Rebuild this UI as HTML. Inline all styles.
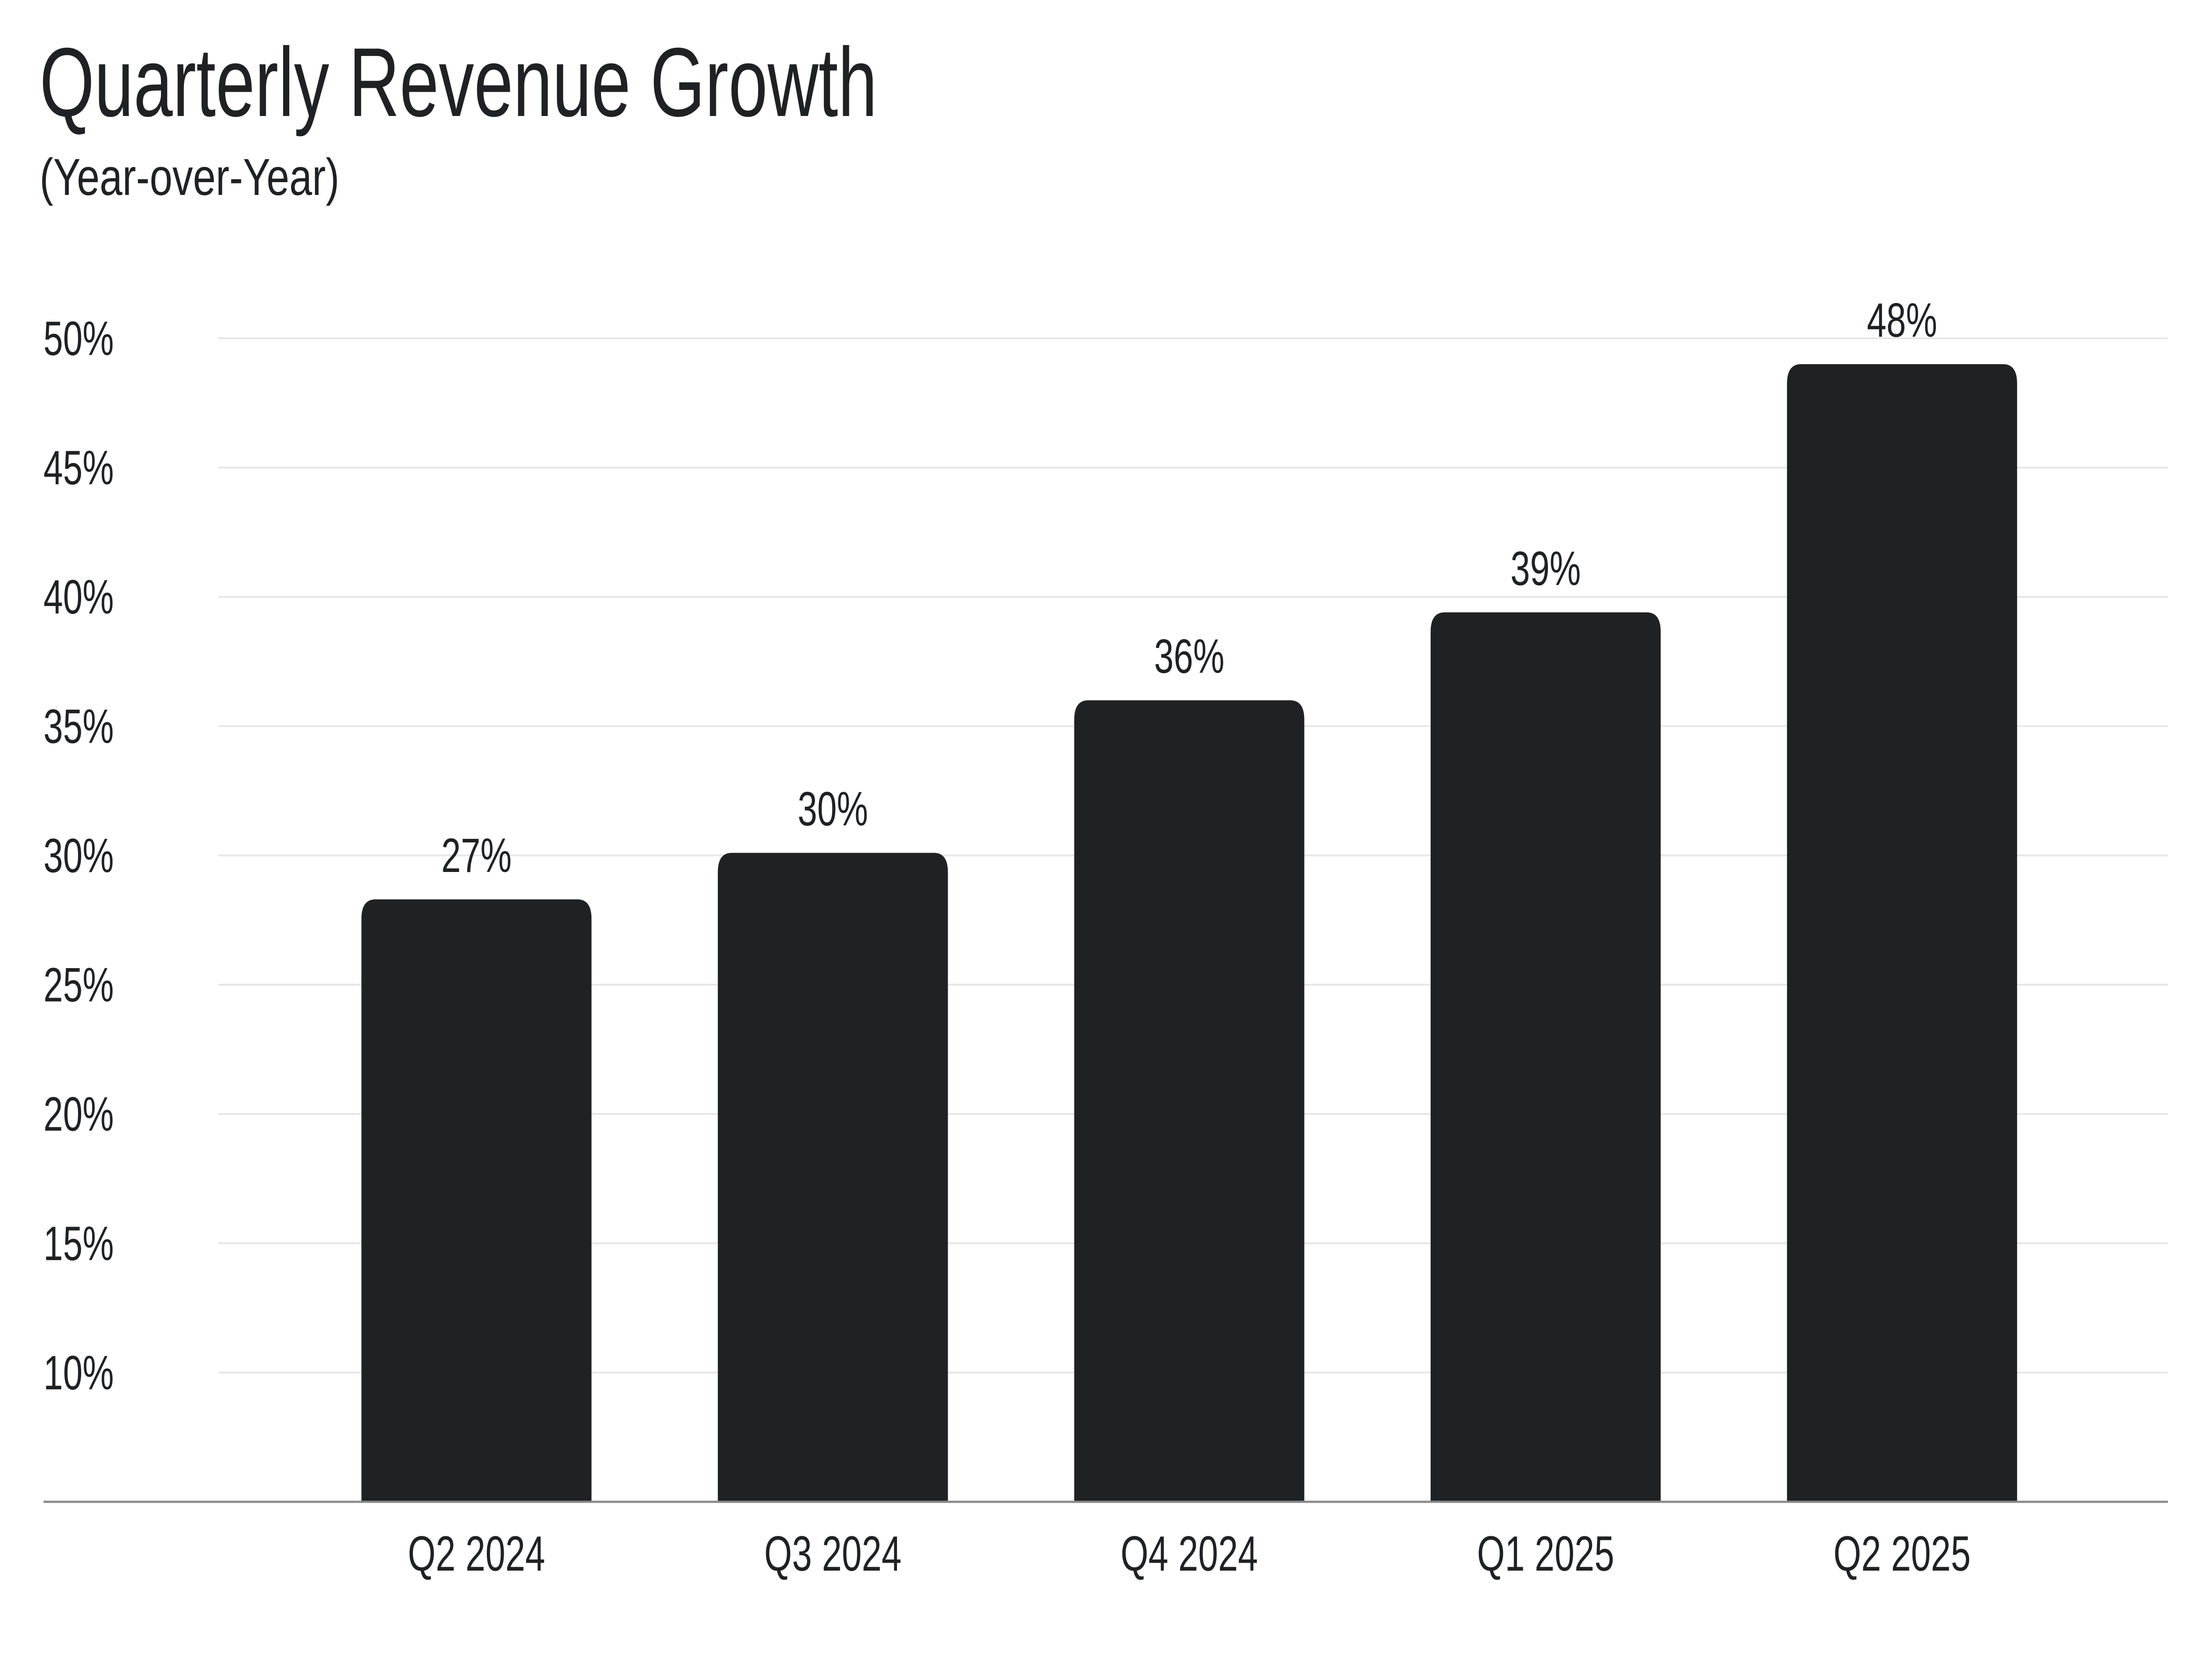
<!DOCTYPE html>
<html>
<head>
<meta charset="utf-8">
<style>
  html,body{margin:0;padding:0;background:#fff;width:100%;height:100%;overflow:hidden;}
  svg{display:block;width:100%;height:100%;}
  text{font-family:"Liberation Sans",sans-serif;fill:#1f2225;}
</style>
</head>
<body>
<svg id="chart" width="100%" height="100%" viewBox="0 0 6900 3809" preserveAspectRatio="none" xmlns="http://www.w3.org/2000/svg">
  <rect x="0" y="0" width="6900" height="3809" fill="#fff"/>
  <text x="124" y="263" font-size="222" textLength="2621" lengthAdjust="spacingAndGlyphs">Quarterly Revenue Growth</text>
  <text x="124" y="442" font-size="118" textLength="938" lengthAdjust="spacingAndGlyphs">(Year-over-Year)</text>
  <g id="grid"></g>
  <g id="yticks"></g>
  <g id="bars"></g>
  <g id="vlabels"></g>
  <g id="xticks"></g>
</svg>
<script>
const categories = ["Q2 2024", "Q3 2024", "Q4 2024", "Q1 2025", "Q2 2025"];
const barValues = [28.3, 30.1, 36.0, 39.4, 49.0];
const valueLabels = ["27%", "30%", "36%", "39%", "48%"];
const yTicks = [10, 15, 20, 25, 30, 35, 40, 45, 50];
const yTickLabels = ["10%", "15%", "20%", "25%", "30%", "35%", "40%", "45%", "50%"];

const NS = "http://www.w3.org/2000/svg";
const yMin = 5, yMax = 50, yBase = 3405, yTop = 767;
function yScale(v){ return yBase - (v - yMin) * (yBase - yTop) / (yMax - yMin); }
const firstCenter = 1491, step = 1115.25, barW = 720, radius = 44;
function xScale(i){ return firstCenter + i * step; }

const grid = document.getElementById("grid");
const yt = document.getElementById("yticks");
yTicks.forEach((t, i) => {
  const y = yScale(t);
  const l = document.createElementNS(NS, "line");
  l.setAttribute("x1", 683); l.setAttribute("x2", 6784);
  l.setAttribute("y1", y); l.setAttribute("y2", y);
  l.setAttribute("stroke", "#e6e6e6"); l.setAttribute("stroke-width", 4);
  
  
  grid.appendChild(l);
  const tx = document.createElementNS(NS, "text");
  tx.setAttribute("x", 136); tx.setAttribute("y", y + 38);
  tx.setAttribute("font-size", 110);
  tx.textContent = yTickLabels[i];
  
  
  yt.appendChild(tx);
});

const bars = document.getElementById("bars");
const vl = document.getElementById("vlabels");
const xt = document.getElementById("xticks");
categories.forEach((c, i) => {
  const cx = xScale(i);
  const x0 = cx - barW / 2, x1 = cx + barW / 2;
  const top = yScale(barValues[i]);
  const r = radius;
  const p = document.createElementNS(NS, "path");
  p.setAttribute("d", `M${x0},${yBase} L${x0},${top + r} Q${x0},${top} ${x0 + r},${top} L${x1 - r},${top} Q${x1},${top} ${x1},${top + r} L${x1},${yBase} Z`);
  p.setAttribute("fill", "#1f2225");
  
  
  bars.appendChild(p);

  const v = document.createElementNS(NS, "text");
  v.setAttribute("x", cx); v.setAttribute("y", top - 62);
  v.setAttribute("font-size", 110); v.setAttribute("text-anchor", "middle");
  v.textContent = valueLabels[i];
  
  
  vl.appendChild(v);

  const x = document.createElementNS(NS, "text");
  x.setAttribute("x", cx); x.setAttribute("y", 3561);
  x.setAttribute("font-size", 112); x.setAttribute("text-anchor", "middle");
  x.textContent = c;
  
  
  xt.appendChild(x);
});

const axis = document.createElementNS(NS, "line");
axis.setAttribute("x1", 136); axis.setAttribute("x2", 6784);
axis.setAttribute("y1", yBase); axis.setAttribute("y2", yBase);
axis.setAttribute("stroke", "#8a8a8a"); axis.setAttribute("stroke-width", 5);


document.getElementById("chart").appendChild(axis);
</script>
</body>
</html>
